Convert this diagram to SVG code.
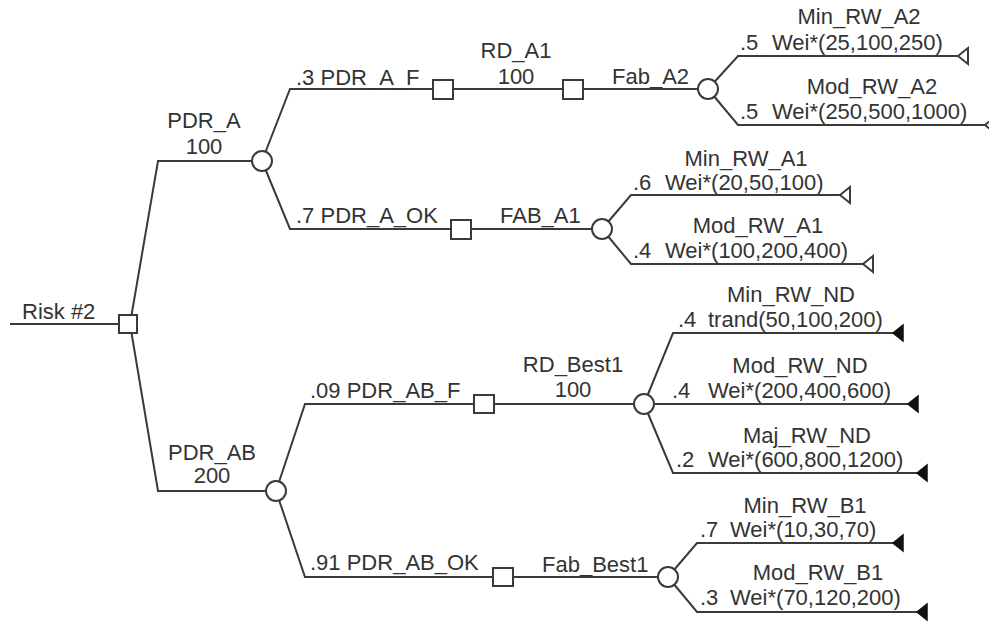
<svg xmlns="http://www.w3.org/2000/svg" width="989" height="622" viewBox="0 0 989 622">
<style>
.ln{fill:none;stroke:#3a3a3a;stroke-width:2}
.dec{fill:#fff;stroke:#3a3a3a;stroke-width:2}
.ch{fill:#fff;stroke:#3a3a3a;stroke-width:2}
.to{fill:#fff;stroke:#3a3a3a;stroke-width:2}
.tf{fill:#111;stroke:#111;stroke-width:1.5}
text{font-family:"Liberation Sans",Arial,sans-serif;font-size:22px;fill:#333}
.m{text-anchor:middle}
</style>
<rect width="989" height="622" fill="#fff"/>
<g id="connectors">
<path class="ln" d="M10,324 H128"/>
<path class="ln" d="M130,324 L158,161 H262"/>
<path class="ln" d="M130,324 L158,491 H276"/>
<path class="ln" d="M262,161 L290,89 H708"/>
<path class="ln" d="M262,161 L290,229 H602"/>
<path class="ln" d="M708,89 L738,56 H958"/>
<path class="ln" d="M708,89 L738,125 H985"/>
<path class="ln" d="M602,229 L631,195 H840"/>
<path class="ln" d="M602,229 L631,264 H863"/>
<path class="ln" d="M276,491 L305,404 H644"/>
<path class="ln" d="M276,491 L305,577 H668"/>
<path class="ln" d="M644,404 L673,333 H893"/>
<path class="ln" d="M644,404 H908"/>
<path class="ln" d="M644,404 L673,473 H917"/>
<path class="ln" d="M668,577 L697,543 H893"/>
<path class="ln" d="M668,577 L697,612 H917"/>
</g>
<g id="risk2">
<rect class="dec" x="119" y="315" width="18" height="18"/>
<text x="22" y="319">Risk #2</text>
</g>
<g id="pdr_a">
<circle class="ch" cx="262" cy="161" r="10"/>
<text class="m" x="204" y="128">PDR_A</text>
<text class="m" x="204" y="154">100</text>
</g>
<g id="pdr_a_f">
<rect class="dec" x="433" y="80" width="20" height="19"/>
<text x="296" y="85">.3 PDR_A_F</text>
</g>
<g id="rd_a1">
<rect class="dec" x="563" y="80" width="20" height="19"/>
<text class="m" x="516" y="58">RD_A1</text>
<text class="m" x="516" y="84">100</text>
</g>
<g id="fab_a2">
<circle class="ch" cx="708" cy="89" r="10"/>
<text x="612" y="84">Fab_A2</text>
</g>
<g id="min_rw_a2">
<polygon class="to" points="958,56 968,48 968,64"/>
<text class="m" x="859" y="24">Min_RW_A2</text>
<text x="740" y="50">.5</text>
<text x="772" y="50">Wei*(25,100,250)</text>
</g>
<g id="mod_rw_a2">
<polygon class="to" points="985,125 995,117 995,133"/>
<text class="m" x="872" y="94">Mod_RW_A2</text>
<text x="740" y="119">.5</text>
<text x="772" y="119">Wei*(250,500,1000)</text>
</g>
<g id="pdr_a_ok">
<rect class="dec" x="451" y="220" width="20" height="19"/>
<text x="296" y="223">.7 PDR_A_OK</text>
</g>
<g id="fab_a1">
<circle class="ch" cx="602" cy="229" r="10"/>
<text x="500" y="223">FAB_A1</text>
</g>
<g id="min_rw_a1">
<polygon class="to" points="840,195 850,187 850,203"/>
<text class="m" x="746" y="166">Min_RW_A1</text>
<text x="633" y="190">.6</text>
<text x="665" y="190">Wei*(20,50,100)</text>
</g>
<g id="mod_rw_a1">
<polygon class="to" points="863,264 873,256 873,272"/>
<text class="m" x="758" y="233">Mod_RW_A1</text>
<text x="633" y="258">.4</text>
<text x="665" y="258">Wei*(100,200,400)</text>
</g>
<g id="pdr_ab">
<circle class="ch" cx="276" cy="491" r="10"/>
<text class="m" x="212" y="460">PDR_AB</text>
<text class="m" x="212" y="483">200</text>
</g>
<g id="pdr_ab_f">
<rect class="dec" x="474" y="395" width="20" height="18"/>
<text x="310" y="398">.09 PDR_AB_F</text>
</g>
<g id="rd_best1">
<circle class="ch" cx="644" cy="404" r="10"/>
<text class="m" x="573" y="372">RD_Best1</text>
<text class="m" x="573" y="397">100</text>
</g>
<g id="min_rw_nd">
<polygon class="tf" points="893,333 903,325 903,341"/>
<text class="m" x="791" y="302">Min_RW_ND</text>
<text x="678" y="327">.4</text>
<text x="708" y="327">trand(50,100,200)</text>
</g>
<g id="mod_rw_nd">
<polygon class="tf" points="908,404 918,396 918,412"/>
<text class="m" x="800" y="373">Mod_RW_ND</text>
<text x="672" y="398">.4</text>
<text x="708" y="398">Wei*(200,400,600)</text>
</g>
<g id="maj_rw_nd">
<polygon class="tf" points="917,473 927,465 927,481"/>
<text class="m" x="807" y="443">Maj_RW_ND</text>
<text x="676" y="467">.2</text>
<text x="708" y="467">Wei*(600,800,1200)</text>
</g>
<g id="pdr_ab_ok">
<rect class="dec" x="493" y="568" width="20" height="18"/>
<text x="310" y="570">.91 PDR_AB_OK</text>
</g>
<g id="fab_best1">
<circle class="ch" cx="668" cy="577" r="10"/>
<text x="542" y="572">Fab_Best1</text>
</g>
<g id="min_rw_b1">
<polygon class="tf" points="893,543 903,535 903,551"/>
<text class="m" x="805" y="513">Min_RW_B1</text>
<text x="700" y="537">.7</text>
<text x="730" y="537">Wei*(10,30,70)</text>
</g>
<g id="mod_rw_b1">
<polygon class="tf" points="917,612 927,604 927,620"/>
<text class="m" x="818" y="580">Mod_RW_B1</text>
<text x="700" y="605">.3</text>
<text x="730" y="605">Wei*(70,120,200)</text>
</g>
</svg>
